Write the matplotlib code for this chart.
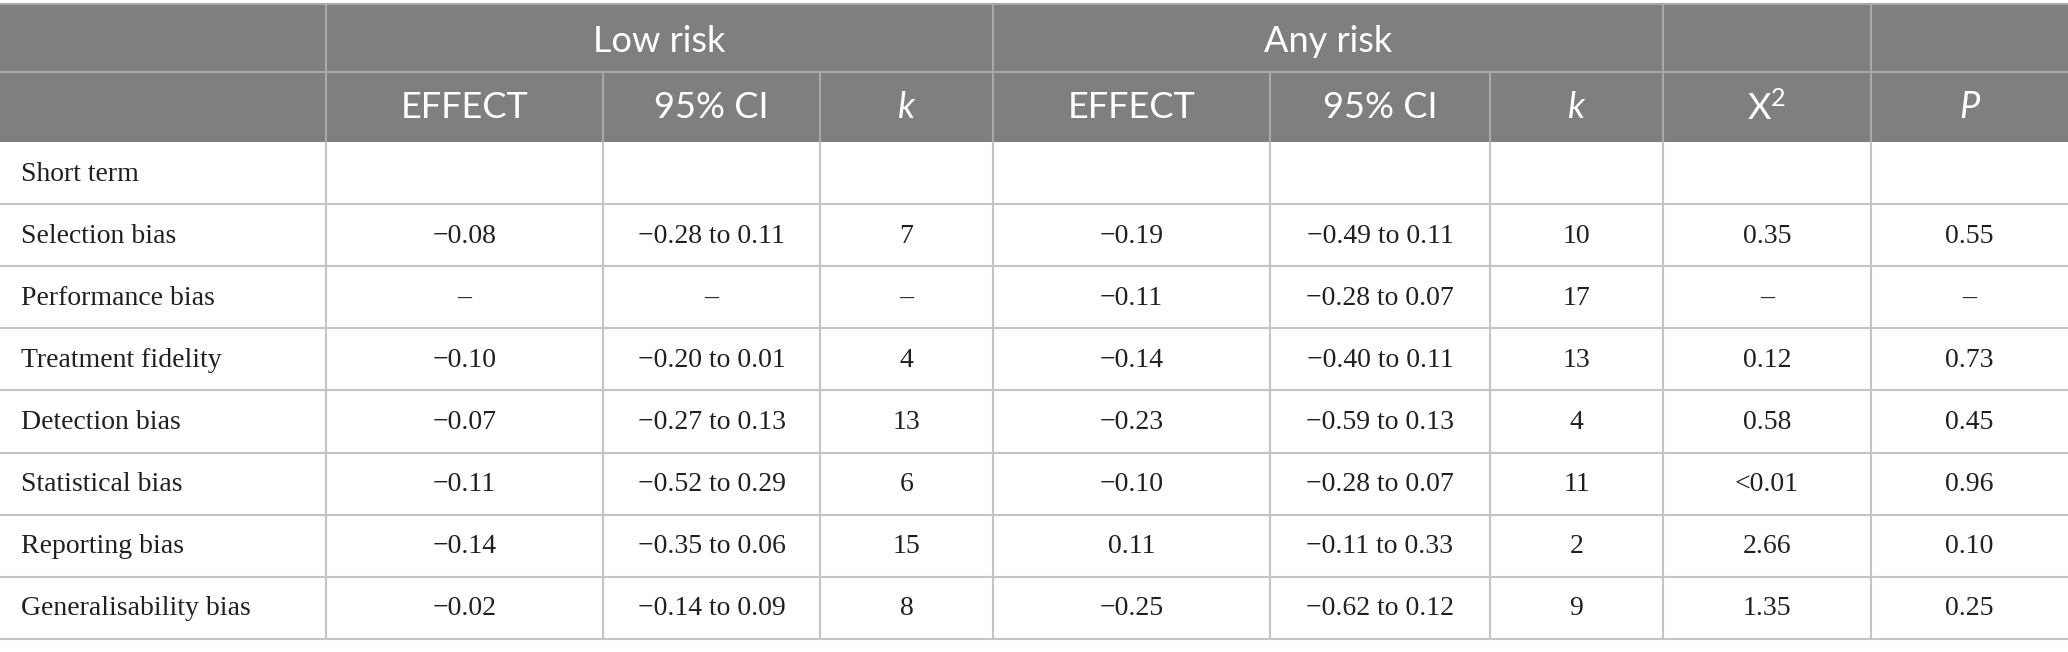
import matplotlib
matplotlib.use("Agg")
import matplotlib.pyplot as plt
from matplotlib.patches import Rectangle

plt.rcParams["mathtext.fontset"] = "custom"
plt.rcParams["mathtext.rm"] = "Lato"
plt.rcParams["mathtext.it"] = "Lato:italic"

# ---------------- data ----------------
row_labels = ["Short term", "Selection bias", "Performance bias", "Treatment fidelity",
              "Detection bias", "Statistical bias", "Reporting bias", "Generalisability bias"]
low_effect = [None, -0.08, None, -0.10, -0.07, -0.11, -0.14, -0.02]
low_ci_lo = [None, -0.28, None, -0.20, -0.27, -0.52, -0.35, -0.14]
low_ci_hi = [None, 0.11, None, 0.01, 0.13, 0.29, 0.06, 0.09]
low_k = [None, 7, None, 4, 13, 6, 15, 8]
any_effect = [None, -0.19, -0.11, -0.14, -0.23, -0.10, 0.11, -0.25]
any_ci_lo = [None, -0.49, -0.28, -0.40, -0.59, -0.28, -0.11, -0.62]
any_ci_hi = [None, 0.11, 0.07, 0.11, 0.13, 0.07, 0.33, 0.12]
any_k = [None, 10, 17, 13, 4, 11, 2, 9]
chi2 = [None, "0.35", None, "0.12", "0.58", "<0.01", "2.66", "1.35"]
p_val = [None, "0.55", None, "0.73", "0.45", "0.96", "0.10", "0.25"]

group_labels = ["Low risk", "Any risk"]
sub_headers = ["EFFECT", "95% CI", "k", "EFFECT", "95% CI", "k", "X$^{2}$", "P"]
italic_headers = {"k", "P"}

# ---------------- layout ----------------
W, H = 2068, 652
col_edges = [0, 326, 603, 820, 993, 1270, 1490, 1663, 1871, 2068]
top = 4
h1_bot = 72
h2_bot = 142
row_h = 62.1

HEAD_BG = "#7f807e"
HEAD_LINE = "#a9aaa8"
BODY_LINE = "#c4c4c4"
TXT = "#231f20"
SANS = ["Lato", "DejaVu Sans"]
SERIF = ["Liberation Serif", "DejaVu Serif"]


def num(v):
    if v is None:
        return "–"
    s = f"{abs(v):.2f}"
    return ("−" + s) if v < 0 else s


def ci(lo, hi):
    if lo is None:
        return "–"
    return f"{num(lo)} to {num(hi)}"


def kk(v):
    return "–" if v is None else str(v)


def txt(v):
    return "–" if v is None else v


fig = plt.figure(figsize=(W / 100, H / 100), dpi=100)
ax = fig.add_axes([0, 0, 1, 1])
ax.set_xlim(0, W)
ax.set_ylim(H, 0)
ax.axis("off")

# header background
ax.add_patch(Rectangle((0, top), W, h2_bot - top, facecolor=HEAD_BG, edgecolor="none"))
ax.hlines(top, 0, W, color=HEAD_LINE, lw=1.5)
ax.hlines(h1_bot, 0, W, color=HEAD_LINE, lw=1.5)

# header 1 vertical lines
for x in [col_edges[1], col_edges[4], col_edges[7], col_edges[8]]:
    ax.vlines(x, top, h1_bot, color=HEAD_LINE, lw=1.5)
for x in col_edges[1:-1]:
    ax.vlines(x, h1_bot, h2_bot, color=HEAD_LINE, lw=1.5)

# header 1 text
spans = [(1, 4), (4, 7)]
for lab, (a, b) in zip(group_labels, spans):
    cx = (col_edges[a] + col_edges[b]) / 2
    ax.text(cx, (top + h1_bot) / 2 + 4, lab, ha="center", va="center", color="white",
            fontsize=26, family=SANS)

# header 2 text
for i, lab in enumerate(sub_headers):
    cx = (col_edges[i + 1] + col_edges[i + 2]) / 2
    ax.text(cx, (h1_bot + h2_bot) / 2 + 1, lab, ha="center", va="center", color="white",
            fontsize=26, family=SANS,
            style="italic" if lab in italic_headers else "normal")

# body
n = len(row_labels)
cols = [
    [num(v) for v in low_effect],
    [ci(a, b) for a, b in zip(low_ci_lo, low_ci_hi)],
    [kk(v) for v in low_k],
    [num(v) for v in any_effect],
    [ci(a, b) for a, b in zip(any_ci_lo, any_ci_hi)],
    [kk(v) for v in any_k],
    [txt(v) for v in chi2],
    [txt(v) for v in p_val],
]
body_bot = h2_bot + n * row_h
for r in range(n):
    y0 = h2_bot + r * row_h
    y1 = y0 + row_h
    ax.hlines(y1, 0, W, color=BODY_LINE, lw=1.5)
    cy = (y0 + y1) / 2 + 1
    ax.text(21, cy, row_labels[r], ha="left", va="center", color=TXT,
            fontsize=20, family=SERIF)
    if r == 0:
        continue
    for c, col in enumerate(cols):
        cx = (col_edges[c + 1] + col_edges[c + 2]) / 2
        ax.text(cx, cy, col[r], ha="center", va="center", color=TXT,
                fontsize=20, family=SERIF)

for x in col_edges[1:-1]:
    ax.vlines(x, h2_bot, body_bot, color=BODY_LINE, lw=1.5)

fig.savefig("out.png", dpi=100, facecolor="white")
